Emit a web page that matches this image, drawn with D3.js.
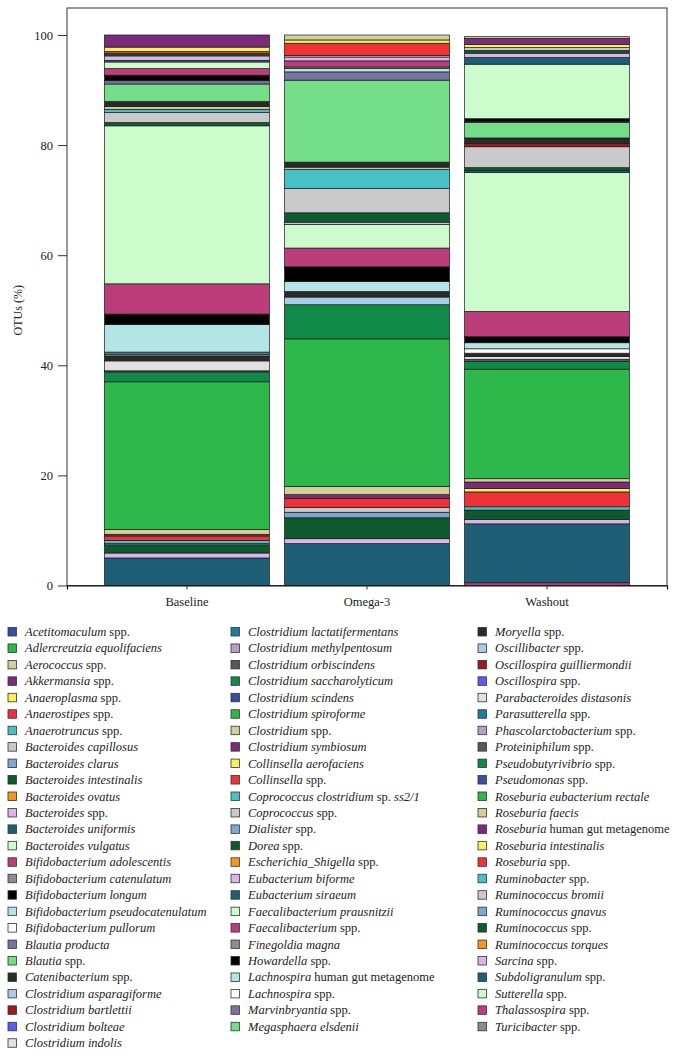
<!DOCTYPE html>
<html><head><meta charset="utf-8">
<script src="https://cdn.jsdelivr.net/npm/d3@7"></script>
<style>body{margin:0;background:#fff} text{font-family:"Liberation Serif","Times New Roman",serif;fill:#222}</style>
</head><body><svg id="c" width="687" height="1057"></svg>
<script>
const groups = ["Baseline","Omega-3","Washout"];
const species = [
"Acetitomaculum spp.","Adlercreutzia equolifaciens","Aerococcus spp.","Akkermansia spp.","Anaeroplasma spp.",
"Anaerostipes spp.","Anaerotruncus spp.","Bacteroides capillosus","Bacteroides clarus","Bacteroides intestinalis",
"Bacteroides ovatus","Bacteroides spp.","Bacteroides uniformis","Bacteroides vulgatus","Bifidobacterium adolescentis",
"Bifidobacterium catenulatum","Bifidobacterium longum","Bifidobacterium pseudocatenulatum","Bifidobacterium pullorum","Blautia producta",
"Blautia spp.","Catenibacterium spp.","Clostridium asparagiforme","Clostridium bartlettii","Clostridium bolteae",
"Clostridium indolis","Clostridium lactatifermentans","Clostridium methylpentosum","Clostridium orbiscindens","Clostridium saccharolyticum",
"Clostridium scindens","Clostridium spiroforme","Clostridium spp.","Clostridium symbiosum","Collinsella aerofaciens",
"Collinsella spp.","Coprococcus clostridium sp. ss2/1","Coprococcus spp.","Dialister spp.","Dorea spp.",
"Escherichia_Shigella spp.","Eubacterium biforme","Eubacterium siraeum","Faecalibacterium prausnitzii","Faecalibacterium spp.",
"Finegoldia magna","Howardella spp.","Lachnospira human gut metagenome","Lachnospira spp.","Marvinbryantia spp.",
"Megasphaera elsdenii","Moryella spp.","Oscillibacter spp.","Oscillospira guilliermondii","Oscillospira spp.",
"Parabacteroides distasonis","Parasutterella spp.","Phascolarctobacterium spp.","Proteiniphilum spp.","Pseudobutyrivibrio spp.",
"Pseudomonas spp.","Roseburia eubacterium rectale","Roseburia faecis","Roseburia human gut metagenome","Roseburia intestinalis",
"Roseburia spp.","Ruminobacter spp.","Ruminococcus bromii","Ruminococcus gnavus","Ruminococcus spp.",
"Ruminococcus torques","Sarcina spp.","Subdoligranulum spp.","Sutterella spp.","Thalassospira spp.",
"Turicibacter spp."];
const palette = [
"#3b4ea0","#2eb84b","#d3cf9b","#7b2a7c","#f8f15b","#ee3238","#47c1c6","#c9c9c9","#7ea8d4","#0c5a2d",
"#f6961e","#d9b5e9","#1e5f75","#cdfccc","#bb3e7b","#8c8c8c","#000000","#b4e5e6","#ffffff","#74749f",
"#73dd87","#2a2a2a","#a8cbe7","#9b1a1e","#5b5bf0","#e1e1e1","#1e7d9c","#b99ec9","#585858","#0f8a47"];
const yTicks = [0,20,40,60,80,100];
const baselineValues = [
0,0,0,2.2,0.8,0.4,0,0,0,0.4,
0,0.8,0.3,1.2,1.2,0.1,0.9,0,0,0.6,
3.2,0.9,0,0,0,0,0,0,0,0,
0,0,0.5,0,0,0,0.6,1.8,0,0.6,
0,0,0,28.7,5.5,0,1.9,5.0,0,0.4,
0.3,0.9,0,0,0,1.8,0,0,0.2,1.8,
0,26.8,0.9,0.3,0,0.8,0.6,0.2,0,1.5,
0,0.9,5.0,0,0,0];
const omegaValues = [
0,0,0.9,0,0.6,2.2,0,0.3,0,0,
0,0.7,0,0,1.1,0.3,0,0.6,0,1.5,
14.9,0.9,0,0,0,0,0,0,0,0,
0,0,0.4,0,0,0,3.5,4.4,0,1.7,
0,0.4,0,4.3,3.4,0,2.7,1.8,0,0,
0,1.0,1.4,0,0,0,0,0,0,6.2,
0,26.8,1.5,0.7,0,1.6,0,0.9,1.0,3.8,
0,0.9,7.6,0,0,0];
const washoutValues = [
0,0,0.3,1.1,0.6,0,0,0.5,0,0.5,
0,0.8,1.2,9.9,0,0,0.5,0,0,0.2,
2.8,1.0,0,0.6,0,0,0,0,0,0,
0,0,0,0,0,0,0,3.8,0,0.5,
0,0,0.4,25.2,4.6,0,1.1,1.1,0.8,0,
0,0.6,0,0,0,0.5,0,0,0.4,1.4,
0,19.9,0.6,1.2,0.6,2.7,0.6,0,0,1.7,
0,0.8,10.7,0,0.5,0];

const seriesValues = [baselineValues, omegaValues, washoutValues];
const svg = d3.select("#c");
const L = 67, R = 667, T = 8, B = 585.5;

const x = d3.scaleBand().domain(groups).range([L, R]).paddingInner(0.0833).paddingOuter(0.208);
const y = d3.scaleLinear().domain([0, 100]).range([B, 35]);

const rows = groups.map((g, gi) => {
  const o = {group: g};
  species.forEach((s, si) => o[s] = seriesValues[gi][si]);
  return o;
});
const keys = species.slice().reverse();
const stacked = d3.stack().keys(keys)(rows);

// frame
svg.append("rect").attr("x", L).attr("y", T).attr("width", R - L).attr("height", B - T)
  .attr("fill", "none").attr("stroke", "#333").attr("stroke-width", 1);

const gBars = svg.append("g");
stacked.forEach(layer => {
  const si = species.indexOf(layer.key);
  gBars.selectAll(null).data(layer.filter(d => d[1] - d[0] > 0)).join("rect")
    .attr("x", d => x(d.data.group))
    .attr("width", x.bandwidth())
    .attr("y", d => y(d[1]))
    .attr("height", d => y(d[0]) - y(d[1]))
    .attr("fill", palette[si % palette.length])
    .attr("stroke", "#1a1a1a").attr("stroke-width", 0.7);
});

// axes
const yAxis = svg.append("g").attr("transform", `translate(${L},0)`)
  .call(d3.axisLeft(y).tickValues(yTicks).tickSize(9).tickPadding(5));
yAxis.select(".domain").remove();
yAxis.selectAll("text").style("font-size", "12.5px").style("font-family", "'Liberation Serif',serif").attr("fill", "#222");
yAxis.selectAll("line").attr("stroke", "#333");

const xAxis = svg.append("g").attr("transform", `translate(0,${B})`)
  .call(d3.axisBottom(x).tickSize(4).tickPadding(8));
xAxis.select(".domain").attr("stroke", "#111").attr("stroke-width", 1.2);
xAxis.selectAll("text").style("font-size", "12.5px").style("font-family", "'Liberation Serif',serif").attr("fill", "#222");
xAxis.selectAll("line").attr("stroke", "#333");

svg.append("text").attr("transform", `translate(22,${(y(0)+y(100))/2}) rotate(-90)`)
  .attr("text-anchor", "middle").style("font-size", "12px").text("OTUs (%)");

// legend
const roman = new Set(["spp.", "sp.", "human", "gut", "metagenome"]);
const colStarts = [0, 26, 51];
const colEnds = [26, 51, 76];
const swX = [8, 231, 478];
const txX = [25, 248, 495];
const row0 = 632, rowH = 16.45;
colStarts.forEach((st, ci) => {
  for (let i = st; i < colEnds[ci]; i++) {
    const r = i - st;
    const cy = row0 + r * rowH;
    svg.append("rect").attr("x", swX[ci]).attr("y", cy - 4.5).attr("width", 8.5).attr("height", 8.5)
      .attr("fill", palette[i % palette.length]).attr("stroke", "#333").attr("stroke-width", 0.8);
    const t = svg.append("text").attr("x", txX[ci]).attr("y", cy + 4).style("font-size", "12.5px");
    const words = species[i].split(" ");
    words.forEach((w, wi) => {
      t.append("tspan").attr("font-style", roman.has(w) ? "normal" : "italic")
        .text((wi > 0 ? " " : "") + w);
    });
  }
});
</script></body></html>
